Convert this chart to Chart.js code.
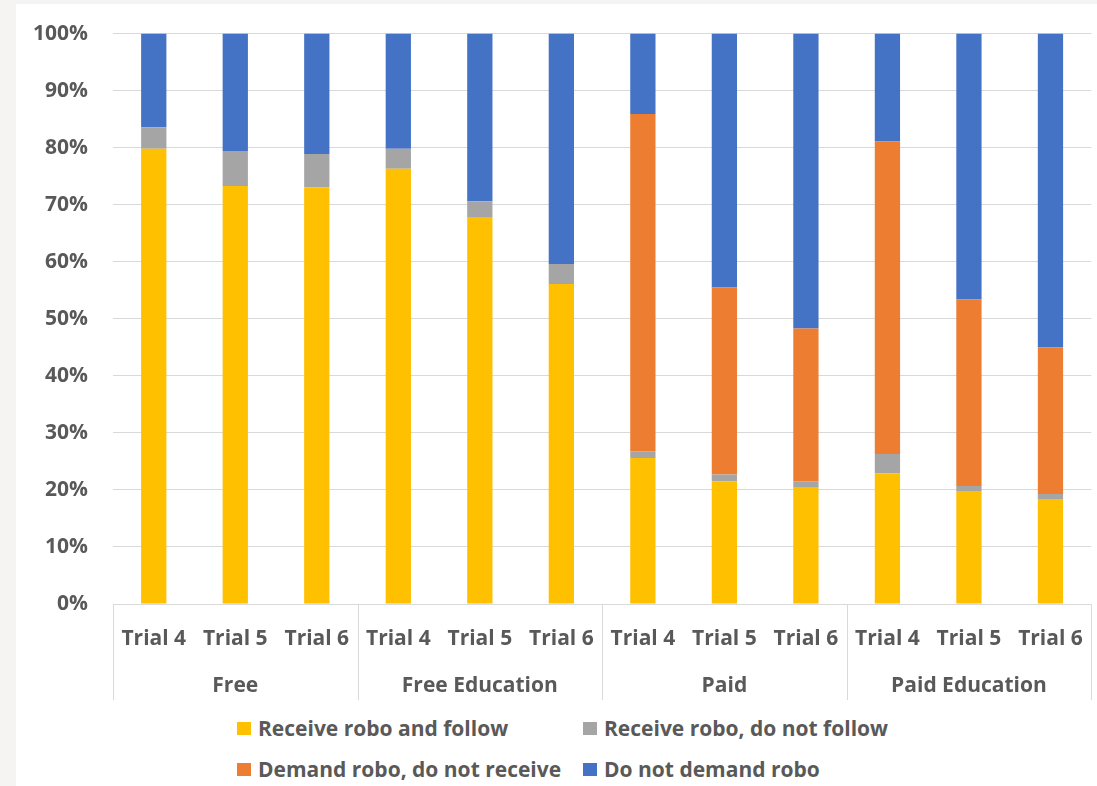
<!DOCTYPE html>
<html lang="en">
<head>
    <meta charset="UTF-8">
    <title>Robo advice by treatment</title>
    <script src="https://cdn.jsdelivr.net/npm/chart.js"></script>
    <style>
        html, body {
            margin: 0;
            padding: 0;
            background: #f5f4f2;
            overflow: hidden;
        }
        .panel {
            position: absolute;
            left: 16px;
            top: 4px;
            width: 1081px;
            height: 782px;
            background: #fff;
        }
        .chart-box {
            position: absolute;
            left: 0;
            top: -8px;
            width: 1081px;
            height: 704px;
        }
        #legend {
            position: absolute;
            left: 221px;
            top: 713px;
            display: grid;
            grid-template-columns: 346px auto;
            row-gap: 19px;
            font-family: "Open Sans", Lato, sans-serif;
            font-weight: bold;
            font-size: 21px;
            color: #595959;
        }
        #legend .item {
            display: flex;
            align-items: center;
            height: 22px;
            white-space: nowrap;
        }
        #legend .box {
            width: 14px;
            height: 13px;
            margin-right: 7px;
        }
    </style>
</head>
<body>
    <div class="panel">
        <div class="chart-box"><canvas id="roboChart"></canvas></div>
        <div id="legend"></div>
    </div>
    <script>
        // 数据（百分比，读自原图）
        const trials = ['Trial 4', 'Trial 5', 'Trial 6', 'Trial 4', 'Trial 5', 'Trial 6',
                        'Trial 4', 'Trial 5', 'Trial 6', 'Trial 4', 'Trial 5', 'Trial 6'];
        const groups = ['Free', 'Free Education', 'Paid', 'Paid Education'];

        const receiveFollow   = [79.8, 73.3, 73.0, 76.3, 67.7, 56.1, 25.6, 21.5, 20.4, 22.9, 19.8, 18.4];
        const receiveNoFollow = [3.8, 6.1, 5.9, 3.5, 2.9, 3.5, 1.2, 1.2, 1.1, 3.4, 0.9, 0.9];
        const demandNoReceive = [0, 0, 0, 0, 0, 0, 59.1, 32.8, 26.8, 54.8, 32.7, 25.7];
        const noDemand = receiveFollow.map((v, i) => 100 - v - receiveNoFollow[i] - demandNoReceive[i]);

        const seriesNames = ['Receive robo and follow', 'Receive robo, do not follow',
                             'Demand robo, do not receive', 'Do not demand robo'];
        const seriesColors = ['#FFC000', '#A5A5A5', '#ED7D31', '#4472C4'];
        const seriesData = [receiveFollow, receiveNoFollow, demandNoReceive, noDemand];

        const fontFamily = '"Open Sans", Lato, sans-serif';
        const textColor = '#595959';
        const lineColor = '#d9d9d9';
        const tickFont = { family: fontFamily, size: 21, weight: 'bold' };

        // 组之间的分隔线（按刻度位置计算）
        const groupDividers = {
            id: 'groupDividers',
            afterDraw(chart) {
                const x = chart.scales.x;
                const x2 = chart.scales.x2;
                const per = trials.length / groups.length;
                const ctx = chart.ctx;
                ctx.save();
                ctx.strokeStyle = lineColor;
                ctx.lineWidth = 1;
                for (let i = 0; i <= trials.length; i += per) {
                    const px = Math.round(x.left + i * x.width / trials.length) + 0.5;
                    ctx.beginPath();
                    ctx.moveTo(px, x.top);
                    ctx.lineTo(px, x2.bottom);
                    ctx.stroke();
                }
                ctx.restore();
            }
        };

        const ctx = document.getElementById('roboChart').getContext('2d');
        const chart = new Chart(ctx, {
            type: 'bar',
            data: {
                labels: trials,
                datasets: seriesNames.map((name, i) => ({
                    label: name,
                    data: seriesData[i],
                    backgroundColor: seriesColors[i],
                    borderWidth: 0,
                    categoryPercentage: 1,
                    barPercentage: 0.31
                }))
            },
            options: {
                responsive: true,
                maintainAspectRatio: false,
                animation: false,
                layout: {
                    padding: { top: 21, right: 5, left: 0, bottom: 0 }
                },
                plugins: {
                    legend: { display: false },
                    tooltip: { enabled: false }
                },
                scales: {
                    x: {
                        stacked: true,
                        grid: { display: false },
                        border: { display: true, color: lineColor },
                        ticks: {
                            color: textColor,
                            padding: 14,
                            maxRotation: 0,
                            autoSkip: false,
                            font: tickFont
                        },
                        afterFit(scale) { scale.height = 58; }
                    },
                    x2: {
                        type: 'category',
                        position: 'bottom',
                        labels: groups,
                        offset: true,
                        grid: { display: false },
                        border: { display: false },
                        ticks: {
                            color: textColor,
                            padding: 3,
                            maxRotation: 0,
                            autoSkip: false,
                            font: tickFont
                        },
                        afterFit(scale) { scale.height = 38; }
                    },
                    y: {
                        stacked: true,
                        min: 0,
                        max: 100,
                        grid: { color: lineColor, drawTicks: false },
                        border: { display: false },
                        ticks: {
                            stepSize: 10,
                            color: textColor,
                            padding: 25,
                            font: tickFont,
                            callback: v => v + '%'
                        },
                        afterFit(scale) { scale.width = 97; }
                    }
                }
            },
            plugins: [groupDividers]
        });

        // 图例（两行两列）
        const legendEl = document.getElementById('legend');
        chart.data.datasets.forEach(ds => {
            const item = document.createElement('div');
            item.className = 'item';
            const box = document.createElement('span');
            box.className = 'box';
            box.style.background = ds.backgroundColor;
            const label = document.createElement('span');
            label.textContent = ds.label;
            item.appendChild(box);
            item.appendChild(label);
            legendEl.appendChild(item);
        });
    </script>
</body>
</html>
